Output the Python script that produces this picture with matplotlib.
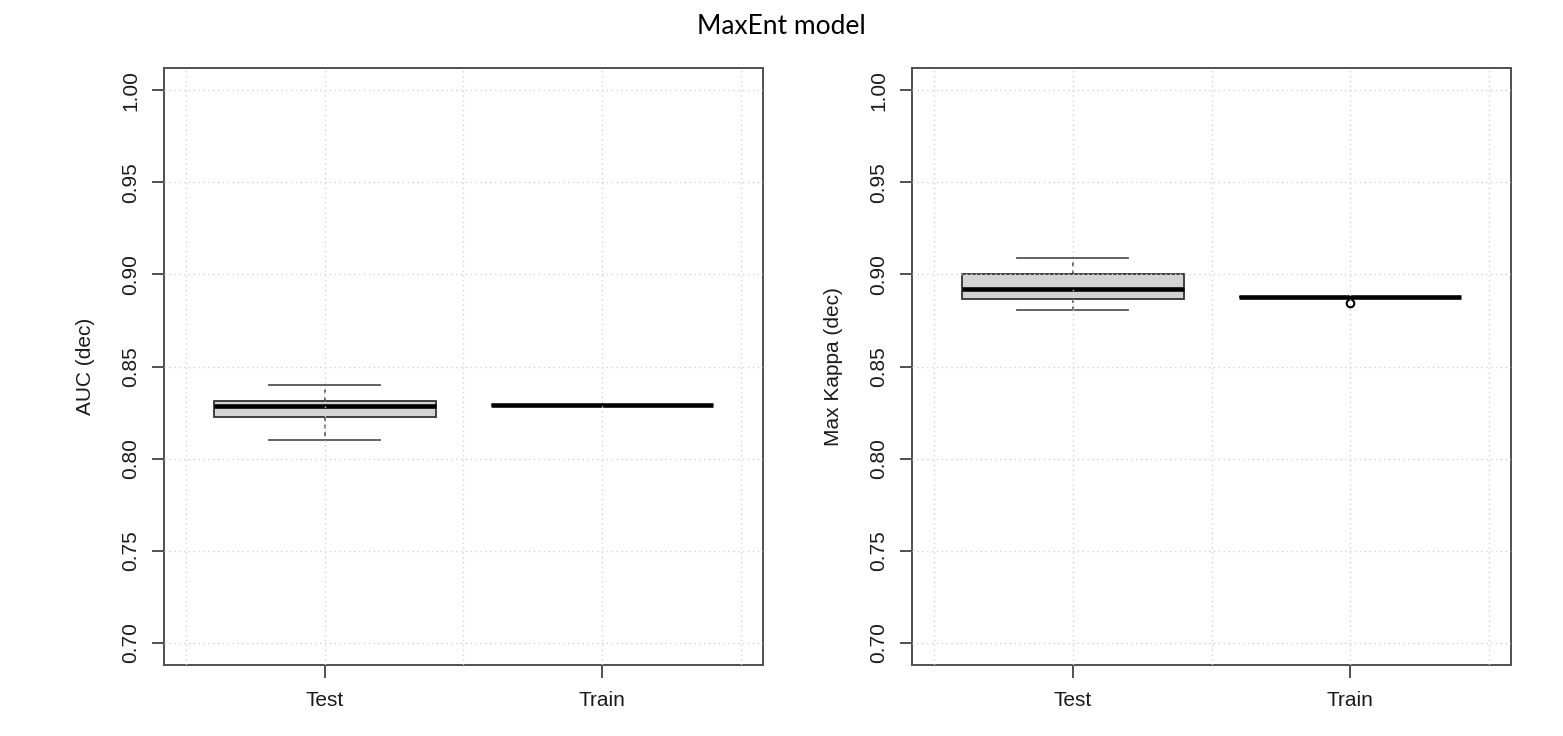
import matplotlib
matplotlib.use("Agg")
import matplotlib.pyplot as plt

# ---- data ----
categories = ["Test", "Train"]
auc_whislo = [0.810, 0.829]
auc_q1 = [0.8227, 0.829]
auc_med = [0.8284, 0.829]
auc_q3 = [0.8313, 0.829]
auc_whishi = [0.840, 0.829]
auc_fliers = [[], []]

kappa_whislo = [0.8804, 0.8875]
kappa_q1 = [0.8864, 0.8875]
kappa_med = [0.8918, 0.8875]
kappa_q3 = [0.900, 0.8875]
kappa_whishi = [0.9087, 0.8875]
kappa_fliers = [[], [0.8846]]

yticks = [0.70, 0.75, 0.80, 0.85, 0.90, 0.95, 1.00]
xgrid = [0.5, 1.0, 1.5, 2.0, 2.5]
title = "MaxEnt model"
ylabels = ["AUC (dec)", "Max Kappa (dec)"]

plt.rcParams['font.family'] = ['Liberation Sans', 'DejaVu Sans']

fig = plt.figure(figsize=(15.63, 7.36), dpi=100)
W, H = 1563, 736
axl = fig.add_axes([164 / W, 1 - 665 / H, 599 / W, 597 / H])
axr = fig.add_axes([912 / W, 1 - 665 / H, 599 / W, 597 / H])

spine_col = "#505050"


def make_stats(lo, q1, med, q3, hi, fl):
    out = []
    for i, c in enumerate(categories):
        out.append(dict(label=c, whislo=lo[i], q1=q1[i], med=med[i],
                        q3=q3[i], whishi=hi[i], fliers=fl[i]))
    return out


def draw(ax, stats, ylabel):
    ax.bxp(stats, positions=[1, 2], widths=0.8, patch_artist=True,
           showfliers=True,
           boxprops=dict(facecolor="#D3D3D3", edgecolor="#333333", linewidth=1.3),
           medianprops=dict(color="black", linewidth=3.3, solid_capstyle="butt"),
           whiskerprops=dict(color="#444444", linewidth=1.1, linestyle=(0, (2.5, 2.5))),
           capprops=dict(color="#555555", linewidth=1.3),
           capwidths=0.4,
           flierprops=dict(marker="o", markerfacecolor="none",
                           markeredgecolor="black", markersize=5.5, markeredgewidth=1.5))
    ax.set_xlim(0.42, 2.58)
    ax.set_ylim(0.688, 1.012)
    ax.set_yticks(yticks)
    ax.set_yticklabels([f"{v:.2f}" for v in yticks], rotation=90, va="center")
    ax.set_xticks([1, 2])
    ax.set_xticklabels(categories)
    ax.set_axisbelow(False)
    for v in yticks:
        ax.axhline(v, color="#D3D3D3", linestyle=(0, (1, 2.5)), linewidth=1.0, zorder=3)
    for v in xgrid:
        ax.axvline(v, color="#D3D3D3", linestyle=(0, (1, 2.5)), linewidth=1.0, zorder=3)
    for s in ax.spines.values():
        s.set_color(spine_col)
        s.set_linewidth(1.4)
    ax.tick_params(axis="both", length=9, width=1.4, color=spine_col,
                   labelsize=15, labelcolor="#1a1a1a")
    ax.tick_params(axis="x", pad=10)
    ax.tick_params(axis="y", pad=8)
    ax.set_ylabel(ylabel, fontsize=15, color="#1a1a1a", labelpad=19)


draw(axl, make_stats(auc_whislo, auc_q1, auc_med, auc_q3, auc_whishi, auc_fliers), ylabels[0])
draw(axr, make_stats(kappa_whislo, kappa_q1, kappa_med, kappa_q3, kappa_whishi, kappa_fliers), ylabels[1])

fig.text(0.5, 1 - 27 / H, title, ha="center", va="center", fontsize=19,
         family=["Lato", "DejaVu Sans"], color="black")

fig.savefig("out.png", dpi=100)
